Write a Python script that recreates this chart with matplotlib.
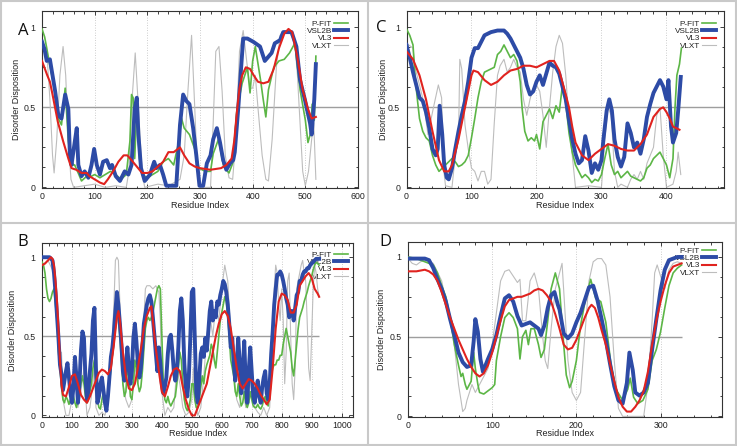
import matplotlib
matplotlib.use("Agg")
import matplotlib.pyplot as plt
from matplotlib.ticker import MultipleLocator, FixedLocator
from matplotlib.lines import Line2D

plt.rcParams['font.family'] = ['Liberation Sans', 'DejaVu Sans']

# ----------------------------- data -----------------------------
series_names = ["P-FIT", "VSL2B", "VL3", "VLXT"]
ref_level = 0.5
y_ticks = [0, 0.5, 1]
y_tick_labels = ["0", "0.5", "1"]
x_label = "Residue Index"
y_label = "Disorder Disposition"

# ---- Panel A ----
a_xticks = [0, 100, 200, 300, 400, 500, 600]
a_pfit_x = [0,5,9,15,25,31,37,44,50,56,62,70,75,85,94,100,110,120,130,140,150,160,167,170,173,176,180,185,190,200,210,220,230,240,250,260,265,270,280,290,298,310,320,325,335,345,355,362,370,380,390,395,400,405,415,420,425,430,440,450,460,470,480,490,500,505,510,513,517,520]
a_pfit_y = [0.99,0.94,0.87,0.76,0.6,0.43,0.39,0.62,0.29,0.14,0.14,0.08,0.04,0.07,0.07,0.08,0.06,0.08,0.1,0.08,0.05,0.08,0.29,0.58,0.56,0.18,0.49,0.18,0.08,0.06,0.08,0.1,0.16,0.18,0.14,0.29,0.43,0.37,0.33,0.24,0.12,0.1,0.1,0.21,0.3,0.13,0.09,0.15,0.48,0.65,0.75,0.59,0.79,0.88,0.67,0.55,0.44,0.61,0.75,0.79,0.8,0.84,0.9,0.61,0.42,0.28,0.34,0.52,0.42,0.82]
a_vsl2b_x = [0,5,9,15,18,25,31,37,44,50,53,56,62,66,69,75,81,88,94,99,104,110,116,123,129,133,140,148,157,164,170,176,180,183,188,195,205,213,217,224,230,236,255,262,268,274,280,287,293,299,306,313,320,325,332,338,344,350,357,363,366,373,382,390,401,414,423,436,442,452,458,464,474,483,490,499,509,512,517,520]
a_vsl2b_y = [0.91,0.86,0.79,0.8,0.74,0.6,0.45,0.43,0.58,0.49,0.2,0.14,0.28,0.37,0.14,0.07,0.1,0.06,0.14,0.24,0.14,0.08,0.16,0.17,0.12,0.14,0.07,0.04,0.1,0.08,0.14,0.49,0.56,0.33,0.12,0.04,0.08,0.16,0.12,0.14,0.08,0.01,0.01,0.39,0.58,0.54,0.52,0.37,0.2,0.01,0.01,0.15,0.2,0.3,0.37,0.28,0.17,0.11,0.15,0.17,0.22,0.51,0.93,0.93,0.91,0.88,0.79,0.84,0.9,0.92,0.97,0.97,0.97,0.88,0.67,0.55,0.4,0.33,0.55,0.77]
a_vl3_x = [0,10,15,20,30,40,50,56,65,75,85,90,100,110,118,125,135,145,155,162,170,180,190,200,210,220,230,240,250,262,270,280,290,300,320,340,350,360,365,370,375,380,387,395,402,410,420,430,440,450,460,468,475,485,495,505,512,520]
a_vl3_y = [0.79,0.7,0.66,0.58,0.41,0.29,0.18,0.12,0.11,0.09,0.09,0.07,0.05,0.03,0.02,0.05,0.1,0.16,0.2,0.2,0.17,0.13,0.09,0.09,0.1,0.13,0.16,0.22,0.22,0.25,0.2,0.15,0.13,0.12,0.11,0.12,0.14,0.18,0.29,0.47,0.62,0.7,0.75,0.74,0.7,0.66,0.65,0.66,0.74,0.87,0.96,0.99,0.97,0.81,0.61,0.49,0.43,0.44]
a_vlxt_x = [0,10,15,20,23,28,34,40,45,50,55,60,80,100,120,140,160,165,170,177,183,190,195,220,240,262,270,277,284,290,295,300,320,325,330,336,342,348,355,362,368,375,382,390,395,400,405,410,418,425,430,437,445,452,460,470,480,485,490,495,500,506,512,516,520]
a_vlxt_y = [0.93,0.8,0.55,0.2,0.09,0.3,0.7,0.88,0.7,0.3,0.05,0.0,0.01,0.02,0.0,0.01,0.0,0.1,0.5,0.84,0.5,0.1,0.0,0.02,0.01,0.05,0.2,0.6,0.95,0.5,0.1,0.0,0.0,0.4,0.85,0.88,0.6,0.2,0.06,0.05,0.3,0.85,0.98,0.75,0.62,0.62,0.7,0.5,0.2,0.05,0.04,0.3,0.75,0.95,0.98,0.97,0.9,0.7,0.4,0.1,0.01,0.1,0.3,0.4,0.05]

# ---- Panel B ----
b_xticks = [0, 100, 200, 300, 400, 500, 600, 700, 800, 900, 1000]
b_pfit_x = list(range(0, 930, 5))
b_pfit_y = [0.97,0.95,0.9,0.8,0.74,0.72,0.74,0.78,0.8,0.7,0.6,0.4,0.3,0.18,0.1,0.08,0.12,0.1,0.07,0.1,
            0.15,0.12,0.08,0.05,0.1,0.15,0.2,0.25,0.2,0.12,0.08,0.1,0.15,0.2,0.3,0.35,0.2,0.1,0.05,0.04,
            0.1,0.15,0.08,0.05,0.1,0.2,0.3,0.38,0.48,0.55,0.65,0.6,0.5,0.35,0.2,0.12,0.15,0.3,0.25,0.12,
            0.1,0.2,0.35,0.3,0.2,0.15,0.18,0.28,0.42,0.55,0.6,0.62,0.6,0.62,0.65,0.7,0.75,0.8,0.82,0.8,
            0.5,0.2,0.1,0.08,0.12,0.08,0.06,0.08,0.1,0.12,0.2,0.3,0.4,0.35,0.2,0.1,0.05,0.03,0.05,0.1,
            0.2,0.2,0.1,0.05,0.05,0.1,0.18,0.25,0.2,0.28,0.32,0.35,0.38,0.45,0.42,0.35,0.3,0.4,0.5,0.6,
            0.65,0.7,0.75,0.72,0.62,0.5,0.35,0.3,0.25,0.15,0.12,0.2,0.12,0.06,0.08,0.15,0.08,0.05,0.08,0.15,
            0.1,0.06,0.05,0.05,0.07,0.05,0.04,0.06,0.1,0.12,0.08,0.06,0.15,0.25,0.3,0.32,0.32,0.35,0.35,0.38,
            0.38,0.45,0.5,0.55,0.5,0.45,0.4,0.3,0.25,0.35,0.45,0.55,0.62,0.65,0.68,0.72,0.75,0.78,0.82,0.85,
            0.88,0.92,0.95,0.97,0.96,0.95]
b_vsl2b_x = list(range(0, 930, 5))
b_vsl2b_y = [1.0,1.0,1.0,1.0,1.0,1.0,0.99,0.98,0.9,0.78,0.64,0.49,0.32,0.26,0.16,0.22,0.28,0.33,0.24,0.14,
             0.08,0.18,0.37,0.24,0.08,0.2,0.41,0.53,0.49,0.24,0.1,0.16,0.28,0.39,0.6,0.68,0.3,0.08,0.12,0.2,
             0.24,0.16,0.08,0.03,0.12,0.24,0.37,0.43,0.53,0.66,0.78,0.7,0.58,0.45,0.28,0.22,0.32,0.43,0.3,0.2,
             0.28,0.49,0.58,0.47,0.33,0.24,0.3,0.43,0.58,0.64,0.7,0.74,0.76,0.72,0.62,0.51,0.39,0.28,0.43,0.33,
             0.2,0.14,0.18,0.24,0.39,0.49,0.51,0.41,0.28,0.22,0.28,0.43,0.66,0.74,0.6,0.33,0.18,0.12,0.24,0.49,
             0.78,0.8,0.49,0.14,0.08,0.24,0.39,0.43,0.37,0.49,0.41,0.53,0.66,0.72,0.6,0.66,0.62,0.72,0.7,0.76,
             0.8,0.85,0.83,0.78,0.7,0.58,0.43,0.49,0.33,0.22,0.33,0.49,0.33,0.14,0.28,0.47,0.2,0.08,0.28,0.43,
             0.28,0.12,0.08,0.16,0.22,0.12,0.08,0.18,0.24,0.28,0.14,0.1,0.2,0.39,0.53,0.7,0.8,0.89,0.89,0.91,
             0.89,0.85,0.8,0.74,0.7,0.62,0.66,0.66,0.6,0.68,0.76,0.78,0.85,0.85,0.89,0.91,0.91,0.93,0.93,0.95,
             0.96,0.97,0.98,0.99,0.99,0.99]
b_vl3_x = [0,10,20,30,35,40,45,50,55,60,65,70,80,90,100,110,120,130,140,150,160,170,180,190,200,210,220,230,240,250,255,260,270,280,290,300,310,320,330,340,350,360,365,370,380,390,400,410,420,430,440,450,460,470,480,490,500,510,520,530,540,550,560,570,580,590,600,610,620,630,640,650,660,670,680,690,700,710,720,730,740,750,760,770,780,790,800,810,820,830,840,850,860,870,880,890,900,910,920,925]
b_vl3_y = [0.95,0.96,0.98,1.0,0.99,0.95,0.85,0.72,0.55,0.35,0.2,0.13,0.12,0.18,0.25,0.26,0.2,0.13,0.1,0.08,0.12,0.17,0.22,0.27,0.29,0.28,0.26,0.3,0.45,0.62,0.66,0.6,0.4,0.25,0.17,0.16,0.2,0.3,0.42,0.55,0.63,0.68,0.69,0.6,0.42,0.28,0.15,0.12,0.18,0.25,0.29,0.3,0.28,0.18,0.1,0.04,0.0,0.0,0.05,0.1,0.15,0.2,0.3,0.4,0.5,0.58,0.64,0.66,0.63,0.55,0.42,0.3,0.2,0.17,0.2,0.23,0.22,0.2,0.17,0.13,0.1,0.07,0.1,0.3,0.55,0.72,0.77,0.76,0.73,0.65,0.65,0.7,0.82,0.85,0.88,0.9,0.87,0.8,0.77,0.75]
b_vlxt_x = [0,20,40,55,60,65,70,80,90,100,110,115,120,130,140,150,160,170,175,180,190,200,210,220,230,240,245,250,255,260,265,270,280,290,300,310,320,330,340,345,350,360,370,380,390,395,400,410,420,430,440,450,460,470,480,490,500,505,510,520,530,540,550,560,570,580,590,600,610,620,630,640,650,660,670,680,690,700,710,720,730,740,750,760,770,775,780,785,790,795,800,805,810,815,820,825,830,835,840,845,850,855,860,865,870,875,880,885,890,895,900,905,910,915,920,925]
b_vlxt_y = [0.95,0.98,0.9,0.5,0.3,0.4,0.1,0.0,0.0,0.1,0.35,0.25,0.05,0.15,0.3,0.0,0.05,0.2,0.35,0.05,0.0,0.02,0.0,0.1,0.3,0.7,0.98,1.0,0.98,0.7,0.4,0.2,0.1,0.05,0.1,0.3,0.2,0.3,0.6,0.8,0.82,0.82,0.8,0.82,0.78,0.6,0.15,0.0,0.05,0.02,0.05,0.3,0.2,0.05,0.0,0.02,0.1,0.3,0.1,0.0,0.05,0.25,0.5,0.65,0.5,0.7,0.6,0.8,0.95,0.85,0.5,0.25,0.1,0.05,0.2,0.05,0.1,0.3,0.05,0.02,0.0,0.05,0.0,0.05,0.5,0.8,0.95,0.9,0.7,0.6,0.8,0.6,0.2,0.4,0.85,0.9,0.5,0.2,0.1,0.3,0.8,0.85,0.9,0.95,0.98,0.9,0.85,0.6,0.3,0.22,0.5,0.8,0.95,0.9,0.8,0.75]

# ---- Panel C ----
c_xticks = [0, 100, 200, 300, 400]
c_pfit_x = [0,5,10,13,17,20,25,30,35,40,45,50,55,60,65,70,75,80,85,90,95,100,105,110,115,120,125,130,135,140,145,150,155,160,165,170,175,178,182,187,192,197,200,205,210,215,220,225,230,235,240,245,250,255,260,265,270,275,280,285,290,295,300,305,310,315,320,325,330,340,345,350,360,365,370,375,380,385,390,395,400,405,410,413,416,420,423]
c_pfit_y = [0.99,0.95,0.89,0.7,0.54,0.43,0.35,0.31,0.29,0.2,0.14,0.1,0.12,0.14,0.16,0.18,0.16,0.13,0.14,0.16,0.2,0.31,0.43,0.56,0.66,0.72,0.73,0.74,0.75,0.83,0.85,0.89,0.85,0.81,0.83,0.79,0.66,0.49,0.35,0.29,0.31,0.29,0.33,0.24,0.41,0.45,0.49,0.43,0.51,0.47,0.64,0.53,0.34,0.22,0.14,0.1,0.06,0.08,0.06,0.03,0.05,0.04,0.08,0.18,0.27,0.14,0.08,0.1,0.06,0.1,0.07,0.06,0.04,0.06,0.12,0.14,0.18,0.2,0.22,0.18,0.14,0.06,0.18,0.49,0.7,0.77,0.87]
c_vsl2b_x = [0,5,10,15,20,25,30,35,40,45,48,51,55,58,62,65,70,75,80,85,90,95,100,105,110,115,120,130,140,150,155,160,165,170,175,180,185,190,195,200,205,210,215,220,225,230,235,240,245,250,255,260,265,270,275,280,285,290,295,300,303,308,312,316,320,325,330,335,340,345,350,355,360,365,370,375,380,385,390,395,400,403,407,410,415,418,422]
c_vsl2b_y = [0.89,0.81,0.72,0.64,0.56,0.54,0.47,0.37,0.24,0.2,0.24,0.51,0.33,0.14,0.06,0.05,0.12,0.24,0.35,0.45,0.54,0.66,0.81,0.87,0.87,0.91,0.95,0.97,0.98,0.98,0.96,0.93,0.89,0.85,0.81,0.74,0.64,0.58,0.6,0.66,0.7,0.64,0.71,0.78,0.76,0.75,0.71,0.63,0.55,0.42,0.3,0.21,0.15,0.17,0.32,0.23,0.09,0.15,0.11,0.17,0.3,0.48,0.55,0.48,0.3,0.19,0.13,0.19,0.4,0.34,0.25,0.28,0.21,0.3,0.44,0.52,0.59,0.63,0.67,0.63,0.55,0.67,0.38,0.28,0.34,0.48,0.69]
c_vl3_x = [0,10,20,30,40,50,58,65,70,80,90,100,103,110,120,130,140,150,160,170,180,190,200,210,220,227,235,245,250,255,260,270,280,290,300,310,320,330,340,350,360,370,380,390,395,400,405,410,420]
c_vl3_y = [0.85,0.8,0.7,0.55,0.35,0.17,0.1,0.1,0.14,0.3,0.5,0.7,0.73,0.72,0.67,0.64,0.66,0.7,0.73,0.74,0.76,0.76,0.75,0.77,0.79,0.79,0.73,0.58,0.5,0.38,0.28,0.2,0.17,0.21,0.24,0.27,0.26,0.24,0.23,0.23,0.27,0.33,0.44,0.49,0.5,0.47,0.43,0.38,0.36]
c_vlxt_x = [0,10,13,20,26,33,41,49,54,57,60,70,75,80,82,85,90,95,100,105,110,115,120,125,130,135,140,144,150,155,160,165,170,175,180,185,190,195,200,205,210,215,220,225,230,235,240,245,250,255,260,280,300,305,310,315,320,325,330,340,345,350,355,360,365,370,375,380,385,390,395,400,410,415,418,422]
c_vlxt_y = [0.9,0.87,0.75,0.64,0.54,0.33,0.49,0.64,0.56,0.12,0.01,0.0,0.2,0.29,0.8,0.74,0.39,0.24,0.12,0.1,0.04,0.1,0.1,0.02,0.05,0.4,0.7,0.76,0.8,0.72,0.75,0.8,0.75,0.72,0.55,0.45,0.55,0.62,0.64,0.6,0.45,0.25,0.5,0.72,0.88,0.95,0.9,0.7,0.4,0.2,0.0,0.01,0.0,0.3,0.5,0.45,0.1,0.0,0.02,0.0,0.05,0.08,0.05,0.1,0.05,0.15,0.2,0.25,0.45,0.5,0.2,0.0,0.02,0.1,0.22,0.08]

# ---- Panel D ----
d_xticks = [0, 100, 200, 300]
d_pfit_x = [0,10,20,30,35,40,45,50,55,60,63,65,68,70,75,78,80,83,85,90,95,100,103,105,110,115,120,125,130,133,136,140,143,146,150,155,158,162,166,170,175,180,184,188,192,195,200,205,211,217,223,229,235,241,247,255,261,264,268,273,279,285,290,295,300,305,310,315,320,325]
d_pfit_y = [1.0,0.99,0.97,0.95,0.9,0.82,0.75,0.62,0.45,0.32,0.25,0.27,0.2,0.17,0.22,0.4,0.3,0.2,0.15,0.14,0.16,0.18,0.2,0.35,0.5,0.62,0.65,0.62,0.55,0.36,0.5,0.54,0.45,0.55,0.55,0.45,0.37,0.42,0.6,0.8,0.9,0.8,0.51,0.26,0.18,0.22,0.35,0.57,0.74,0.86,0.74,0.72,0.59,0.33,0.17,0.1,0.17,0.24,0.12,0.08,0.1,0.17,0.35,0.42,0.53,0.68,0.82,0.9,0.93,0.95]
d_vsl2b_x = [0,10,20,25,30,35,40,45,50,55,60,65,70,75,78,80,83,86,89,92,95,100,105,110,115,120,125,130,135,140,145,150,155,158,162,166,170,174,178,180,185,190,195,200,205,210,215,220,225,230,235,240,245,250,255,260,263,267,270,275,280,285,290,295,300,305,310,315,320,325]
d_vsl2b_y = [0.99,0.99,0.99,0.98,0.93,0.86,0.8,0.72,0.61,0.51,0.4,0.34,0.31,0.32,0.47,0.61,0.53,0.36,0.28,0.32,0.36,0.42,0.51,0.63,0.74,0.76,0.72,0.63,0.57,0.58,0.59,0.57,0.55,0.51,0.57,0.68,0.76,0.78,0.7,0.67,0.52,0.49,0.52,0.59,0.65,0.73,0.81,0.82,0.73,0.61,0.48,0.33,0.19,0.1,0.08,0.21,0.4,0.29,0.15,0.13,0.15,0.21,0.42,0.61,0.79,0.92,0.98,0.99,1.0,1.0]
d_vl3_x = [0,10,20,25,30,35,40,45,50,55,60,65,70,75,80,85,90,95,100,105,110,115,120,125,130,135,140,145,150,155,160,165,170,175,180,185,190,195,200,205,210,215,218,222,226,230,235,240,245,250,255,260,265,270,275,280,285,290,295,300,305,310,315,320,325]
d_vl3_y = [0.91,0.91,0.92,0.91,0.89,0.85,0.78,0.7,0.62,0.55,0.48,0.42,0.36,0.31,0.27,0.25,0.27,0.32,0.4,0.5,0.6,0.69,0.73,0.74,0.75,0.75,0.76,0.77,0.79,0.8,0.79,0.76,0.72,0.64,0.55,0.45,0.42,0.43,0.48,0.55,0.62,0.68,0.7,0.68,0.62,0.54,0.45,0.33,0.22,0.12,0.06,0.03,0.03,0.06,0.1,0.16,0.28,0.45,0.6,0.72,0.82,0.9,0.94,0.95,0.96]
d_vlxt_x = [0,5,10,15,20,30,40,50,55,60,63,65,68,70,73,76,80,85,90,95,100,105,110,115,120,125,130,133,136,140,145,150,155,160,163,166,170,175,180,183,186,190,195,200,205,210,215,220,225,230,235,240,245,250,255,280,285,290,293,296,300,305,310,315,320,325]
d_vlxt_y = [0.99,0.96,0.95,0.97,0.98,0.96,0.85,0.6,0.45,0.2,0.1,0.03,0.05,0.1,0.15,0.2,0.15,0.2,0.25,0.3,0.45,0.65,0.85,0.91,0.92,0.88,0.84,0.86,0.6,0.6,0.85,0.9,0.8,0.5,0.35,0.3,0.55,0.8,0.9,0.96,0.7,0.35,0.15,0.1,0.15,0.5,0.85,0.97,0.99,0.99,0.95,0.75,0.35,0.05,0.0,0.0,0.2,0.6,0.9,0.95,0.88,0.8,0.92,0.96,0.97,0.96]

# ----------------------------- style / layout -----------------------------
W, H = 737, 446
colors = {"P-FIT": "#5cb646", "VSL2B": "#2d4ba6", "VL3": "#e0231f", "VLXT": "#bdbdbd"}
widths = {"P-FIT": 1.2, "VSL2B": 2.8, "VL3": 1.5, "VLXT": 0.8}
zorders = {"P-FIT": 3, "VSL2B": 4, "VL3": 5, "VLXT": 2}

panels = [
    dict(letter="A", box=(42, 11, 358, 188), xlim=(0, 600), ylim=(-0.004, 1.102),
         xticks=a_xticks, xminor=20, hline_end=600, letter_xy=(23, 31), ylab_x=17, xlab_y=205,
         leg_r=10, leg_t=9,
         data={"P-FIT": (a_pfit_x, a_pfit_y), "VSL2B": (a_vsl2b_x, a_vsl2b_y),
               "VL3": (a_vl3_x, a_vl3_y), "VLXT": (a_vlxt_x, a_vlxt_y)}),
    dict(letter="C", box=(406.5, 11, 724, 188), xlim=(0, 488.5), ylim=(-0.004, 1.102),
         xticks=c_xticks, xminor=20, hline_end=488.5, letter_xy=(381, 28), ylab_x=383, xlab_y=205,
         leg_r=8, leg_t=9,
         data={"P-FIT": (c_pfit_x, c_pfit_y), "VSL2B": (c_vsl2b_x, c_vsl2b_y),
               "VL3": (c_vl3_x, c_vl3_y), "VLXT": (c_vlxt_x, c_vlxt_y)}),
    dict(letter="B", box=(42, 243, 353, 417), xlim=(0, 1038), ylim=(-0.01, 1.09),
         xticks=b_xticks, xminor=25, hline_end=925, letter_xy=(22.5, 242), ylab_x=13, xlab_y=433,
         leg_r=5, leg_t=8,
         data={"P-FIT": (b_pfit_x, b_pfit_y), "VSL2B": (b_vsl2b_x, b_vsl2b_y),
               "VL3": (b_vl3_x, b_vl3_y), "VLXT": (b_vlxt_x, b_vlxt_y)}),
    dict(letter="D", box=(408, 242, 722, 417), xlim=(0, 373), ylim=(-0.004, 1.094),
         xticks=d_xticks, xminor=20, hline_end=325, letter_xy=(385, 242), ylab_x=381, xlab_y=434,
         leg_r=6, leg_t=5,
         data={"P-FIT": (d_pfit_x, d_pfit_y), "VSL2B": (d_vsl2b_x, d_vsl2b_y),
               "VL3": (d_vl3_x, d_vl3_y), "VLXT": (d_vlxt_x, d_vlxt_y)}),
]

fig = plt.figure(figsize=(W / 100, H / 100), dpi=100)
fig.patch.set_facecolor("white")

# panel frames
frame_kw = dict(color="#c9c9c9", linewidth=1.5, transform=None)
for (x0, y0, x1, y1) in [(1, 1, 736, 1), (1, 445, 736, 445), (1, 1, 1, 445), (736, 1, 736, 445),
                         (368, 1, 368, 445), (1, 223, 736, 223)]:
    fig.add_artist(Line2D([x0, x1], [H - y0, H - y1], **frame_kw))

text_col = "#222222"
leg_fs = 5.9

for p in panels:
    l, t, r, b = p["box"]
    ax = fig.add_axes([l / W, 1 - b / H, (r - l) / W, (b - t) / H])
    ax.set_axisbelow(True)
    for name in ["VLXT", "P-FIT", "VSL2B", "VL3"]:
        xs, ys = p["data"][name]
        ax.plot(xs, ys, color=colors[name], lw=widths[name], zorder=zorders[name],
                label=name, solid_joinstyle="round")
    ax.hlines(ref_level, 0, p["hline_end"], color="#9e9e9e", lw=1.0, zorder=1.5)
    ax.set_xlim(*p["xlim"])
    ax.set_ylim(*p["ylim"])
    ax.xaxis.set_major_locator(FixedLocator(p["xticks"]))
    ax.xaxis.set_minor_locator(MultipleLocator(p["xminor"]))
    ax.set_yticks(y_ticks)
    ax.set_yticklabels(y_tick_labels)
    ax.yaxis.set_minor_locator(MultipleLocator(0.125))
    ax.tick_params(which="both", direction="in", top=True, right=True, colors=text_col,
                   width=0.6, labelsize=6.3)
    ax.tick_params(which="major", length=3)
    ax.tick_params(which="minor", length=1.8)
    ax.tick_params(axis="y", pad=4.6)
    ax.tick_params(axis="x", pad=2.6)
    ax.xaxis.grid(True, which="major", linestyle=(0, (1, 2)), color="#bdbdbd", linewidth=0.6)
    for s in ax.spines.values():
        s.set_linewidth(0.8)
        s.set_color("#333333")
    aw, ah = r - l, b - t
    ax.set_xlabel(x_label, fontsize=6.5, color=text_col, va="center")
    ax.xaxis.set_label_coords(0.5, -(p["xlab_y"] - b) / ah)
    ax.set_ylabel(y_label, fontsize=6.5, color=text_col, va="center")
    ax.yaxis.set_label_coords(-(l - p["ylab_x"]) / aw, 0.5)

    handles, labels = ax.get_legend_handles_labels()
    order = [labels.index(n) for n in series_names]
    leg = ax.legend([handles[i] for i in order], [labels[i] for i in order],
                    loc="upper right", bbox_to_anchor=(1 - p["leg_r"] / aw, 1 - p["leg_t"] / ah),
                    frameon=False, fontsize=leg_fs, markerfirst=False, handlelength=1.65,
                    handletextpad=0.3, labelspacing=-0.05, borderpad=0, borderaxespad=0)
    for txt in leg.get_texts():
        txt.set_color(text_col)
    leg.set_zorder(1)

    fig.text(p["letter_xy"][0] / W, 1 - p["letter_xy"][1] / H, p["letter"],
             fontsize=12, family=["Open Sans", "DejaVu Sans"], ha="center", va="center",
             color="#111111")

fig.savefig("out.png", dpi=100, facecolor="white")
